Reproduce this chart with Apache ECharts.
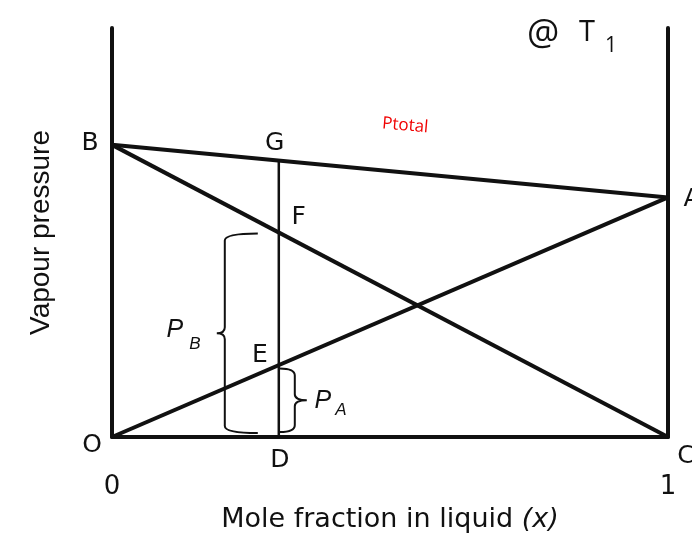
<!DOCTYPE html>
<html>
<head>
<meta charset="utf-8">
<script src="https://cdn.jsdelivr.net/npm/echarts@6/dist/echarts.min.js"></script>
<style>
html, body { margin: 0; padding: 0; background: #fff; }
#main { width: 692px; height: 538px; }
</style>
</head>
<body>
<div id="main"></div>
<script>
// Raoult's law diagram - vapour pressure vs mole fraction of A
var xFraction = [0, 1];
var pressureA = [0, 82];        // OA : partial pressure of A
var pressureB = [100, 0];       // BC : partial pressure of B
var pressureTotal = [100, 82];  // BA : total pressure
var xD = 0.3;
var lineDG = [0, 94.5];         // D up to G

var pointNames = ['B', 'G', 'F', 'E', 'O', 'D', 'C', 'A'];
var pointX = [0, 0.3, 0.3, 0.3, 0, 0.3, 1, 1];
var pointY = [100, 94.5, 70, 24.5, 0, 0, 0, 82];

var braceNames = ['B', 'A'];
var braceTop = [70, 24.5];
var braceBottom = [0, 0];

var xTicks = ['0', '1'];

var myChart = echarts.init(document.getElementById('main'));

function pairs(xs, ys) {
  var out = [];
  for (var i = 0; i < xs.length; i++) out.push([xs[i], ys[i]]);
  return out;
}

// label offsets in pixels (style only)
var labelOffset = {
  B: [-22, -1], G: [-4, -17], F: [20, -15], E: [-19, -10],
  O: [-20, 8], D: [1, 23], C: [18, 19], A: [24, 2]
};
var pointData = [];
for (var i = 0; i < pointNames.length; i++) {
  pointData.push({
    name: pointNames[i],
    value: [pointX[i], pointY[i]],
    label: { offset: labelOffset[pointNames[i]] }
  });
}

// brace geometry relative to the D line (pixels)
var braceStyle = [
  { spine: -54, hook: -21, bulge: -8, inTop: 1, inBot: 4, p: [-42, -3], s: [-22, 11] },
  { spine: 16, hook: 1, bulge: 12, inTop: 3, inBot: 5, p: [16, 1], s: [34, 10] }
];

function renderBrace(params, api) {
  var st = braceStyle[params.dataIndex];
  var top = api.coord([api.value(0), api.value(1)]);
  var bot = api.coord([api.value(0), api.value(2)]);
  var x0 = top[0];
  var sx = x0 + st.spine, hx = x0 + st.hook, tx = sx + st.bulge;
  var y1 = top[1] + st.inTop, y2 = bot[1] - st.inBot, ym = (y1 + y2) / 2;
  var d = 'M' + hx + ',' + y1 +
    ' Q' + sx + ',' + y1 + ' ' + sx + ',' + (y1 + 7) +
    ' L' + sx + ',' + (ym - 6) +
    ' Q' + sx + ',' + ym + ' ' + tx + ',' + ym +
    ' Q' + sx + ',' + ym + ' ' + sx + ',' + (ym + 6) +
    ' L' + sx + ',' + (y2 - 7) +
    ' Q' + sx + ',' + y2 + ' ' + hx + ',' + y2;
  return {
    type: 'group',
    children: [
      { type: 'path', shape: { pathData: d }, style: { stroke: '#111', lineWidth: 2, fill: null } },
      { type: 'text', x: tx + st.p[0], y: ym + st.p[1],
        style: { text: 'P', font: 'italic 25px "Liberation Sans"', fill: '#111', textAlign: 'center', textVerticalAlign: 'middle' } },
      { type: 'text', x: tx + st.s[0], y: ym + st.s[1],
        style: { text: braceNames[params.dataIndex], font: 'italic 17px "Liberation Sans"', fill: '#111', textAlign: 'center', textVerticalAlign: 'middle' } }
    ]
  };
}

var lineStyle = { color: '#111', width: 4 };

var option = {
  animation: false,
  grid: { left: 112, right: 24, top: 28, bottom: 101 },
  graphic: [
    { type: 'text', x: 527, y: 35, style: { text: '@', font: '36px "Open Sans"', fill: '#111', textVerticalAlign: 'middle' } },
    { type: 'text', x: 579, y: 33, style: { text: 'T', font: '29px "Open Sans"', fill: '#111', textVerticalAlign: 'middle' } },
    { type: 'text', x: 605, y: 46, style: { text: '1', font: '21px "Open Sans"', fill: '#111', textVerticalAlign: 'middle' } }
  ],
  xAxis: {
    type: 'value', min: 0, max: 1, interval: 1,
    axisLine: { onZero: false, lineStyle: { color: '#111', width: 4 } },
    axisTick: { show: false },
    splitLine: { show: false },
    axisLabel: {
      margin: 37, color: '#111', fontSize: 26, fontFamily: 'DejaVu Sans',
      formatter: function (v) { return v === 0 ? xTicks[0] : xTicks[1]; }
    },
    name: 'Mole fraction in liquid {i|(x)}',
    nameLocation: 'middle', nameGap: 69,
    nameTextStyle: {
      color: '#111', fontSize: 27, fontFamily: 'DejaVu Sans',
      rich: { i: { fontSize: 27, fontFamily: 'DejaVu Sans', fontStyle: 'italic', color: '#111' } }
    }
  },
  yAxis: [{
    type: 'value', min: 0, max: 140,
    axisLine: { show: true, onZero: false, lineStyle: { color: '#111', width: 4 } },
    axisTick: { show: false }, axisLabel: { show: false }, splitLine: { show: false },
    name: 'Vapour pressure', nameLocation: 'middle', nameGap: 57,
    nameTextStyle: { color: '#111', fontSize: 28, fontFamily: 'Liberation Sans' }
  }, {
    type: 'value', min: 0, max: 140, position: 'right',
    axisLine: { show: true, onZero: false, lineStyle: { color: '#111', width: 4 } },
    axisTick: { show: false }, axisLabel: { show: false }, splitLine: { show: false }
  }],
  series: [
    { name: 'Ptotal', type: 'line', data: pairs(xFraction, pressureTotal), symbol: 'none', lineStyle: lineStyle },
    { name: 'PB', type: 'line', data: pairs(xFraction, pressureB), symbol: 'none', lineStyle: lineStyle },
    { name: 'PA', type: 'line', data: pairs(xFraction, pressureA), symbol: 'none', lineStyle: lineStyle },
    { name: 'DG', type: 'line', data: pairs([xD, xD], lineDG), symbol: 'none', lineStyle: { color: '#111', width: 2.5 } },
    {
      name: 'braces', type: 'custom', renderItem: renderBrace, silent: true,
      data: [[xD, braceTop[0], braceBottom[0]], [xD, braceTop[1], braceBottom[1]]]
    },
    {
      name: 'points', type: 'scatter', symbolSize: 0, silent: true, data: pointData,
      itemStyle: { opacity: 1, color: '#111' },
      label: {
        show: true, position: 'inside', formatter: '{b}',
        color: '#111', fontSize: 25, fontFamily: 'DejaVu Sans'
      }
    },
    {
      name: 'ptotalLabel', type: 'scatter', symbolSize: 0, silent: true,
      itemStyle: { opacity: 1, color: '#f00000' },
      data: [{ name: 'Ptotal', value: [0.52, 90.6] }],
      label: {
        show: true, position: 'inside', formatter: '{b}', offset: [0, -47], rotate: -5,
        color: '#f00000', fontSize: 17, fontFamily: 'Open Sans'
      }
    }
  ]
};
myChart.setOption(option);
</script>
</body>
</html>
